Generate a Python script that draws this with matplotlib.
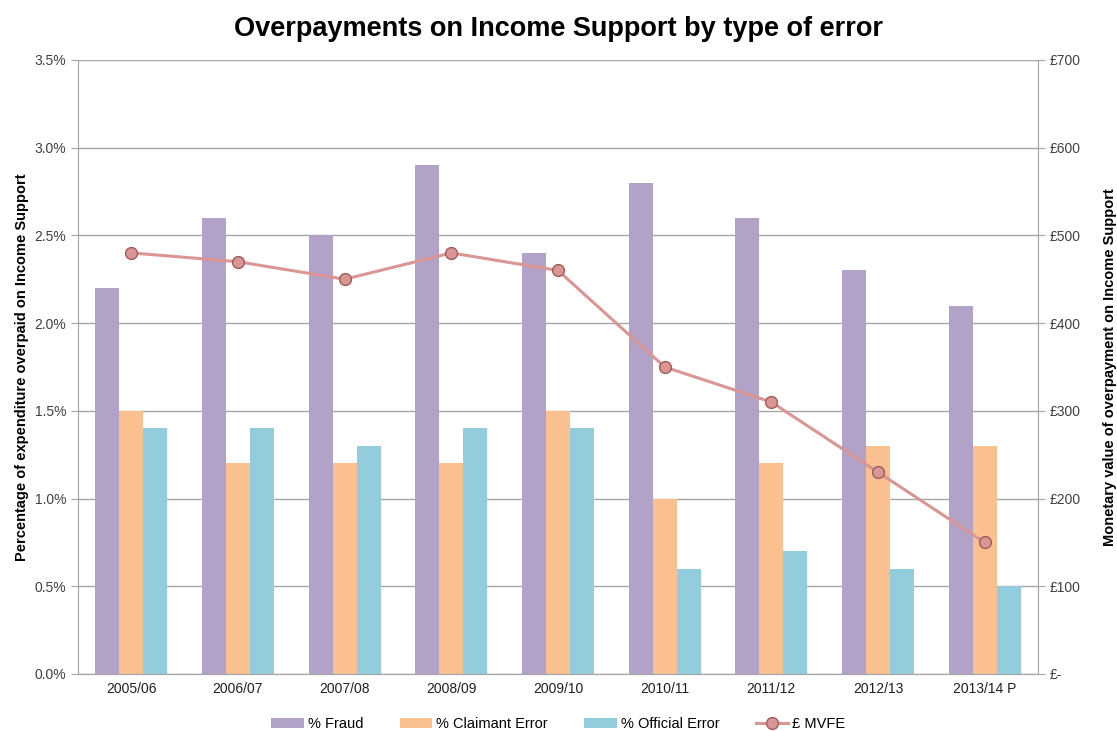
import numpy as np
import matplotlib
matplotlib.use("Agg")
from matplotlib import pyplot as plt
from matplotlib.ticker import FuncFormatter

years = ["2005/06", "2006/07", "2007/08", "2008/09", "2009/10",
         "2010/11", "2011/12", "2012/13", "2013/14 P"]
fraud = [2.2, 2.6, 2.5, 2.9, 2.4, 2.8, 2.6, 2.3, 2.1]
claimant = [1.5, 1.2, 1.2, 1.2, 1.5, 1.0, 1.2, 1.3, 1.3]
official = [1.4, 1.4, 1.3, 1.4, 1.4, 0.6, 0.7, 0.6, 0.5]
mvfe = [480, 470, 450, 480, 460, 350, 310, 230, 150]

plt.rcParams['font.family'] = ['Liberation Sans', 'DejaVu Sans']

def main():
	fig = plt.figure(figsize=(11.17, 7.31), dpi=100)
	ax = fig.add_axes([0.0698, 0.078, 0.8595, 0.840])
	x = np.arange(len(years))
	w = 0.225

	ax.bar(x - w, fraud, w, color="#B3A2C7", label="% Fraud", zorder=2)
	ax.bar(x, claimant, w, color="#FAC090", label="% Claimant Error", zorder=2)
	ax.bar(x + w, official, w, color="#93CDDD", label="% Official Error", zorder=2)

	ax.set_xlim(-0.5, len(years) - 0.5)
	ax.set_ylim(0, 3.5)
	ax.set_yticks(np.arange(0, 3.51, 0.5))
	ax.yaxis.set_major_formatter(FuncFormatter(lambda v, p: "%.1f%%" % v))
	ax.set_xticks(x)
	ax.set_xticklabels(years)
	ax.grid(axis="y", color="#A6A6A6", linewidth=1, zorder=0)
	ax.set_axisbelow(True)
	ax.spines["top"].set_visible(False)
	for s in ["left", "right", "bottom"]:
		ax.spines[s].set_color("#A6A6A6")
	ax.tick_params(axis="y", colors="#A6A6A6", labelcolor="#404040", labelsize=10, length=5)
	ax.tick_params(axis="x", length=0, labelcolor="#202020", labelsize=10, pad=6)
	ax.set_ylabel("Percentage of expenditure overpaid on Income Support",
		fontsize=10.5, fontweight="bold", labelpad=4)

	ax2 = ax.twinx()
	ax2.plot(x, mvfe, color="#D99694", linewidth=2.2, marker="o", markersize=8.5,
		markerfacecolor="#D99694", markeredgecolor="#A05A58", markeredgewidth=1,
		label="£ MVFE", zorder=3)
	ax2.set_ylim(0, 700)
	ax2.set_yticks(np.arange(0, 701, 100))
	ax2.yaxis.set_major_formatter(FuncFormatter(lambda v, p: "£-" if v == 0 else "£%d" % v))
	ax2.spines["top"].set_visible(False)
	for s in ["left", "right", "bottom"]:
		ax2.spines[s].set_color("#A6A6A6")
	ax2.tick_params(axis="y", colors="#A6A6A6", labelcolor="#404040", labelsize=10, length=5)
	ax2.set_ylabel("Monetary value of overpayment on Income Support",
		fontsize=10.5, fontweight="bold", labelpad=16)

	fig.suptitle("Overpayments on Income Support by type of error",
		fontsize=19.5, fontweight="bold", y=0.978)

	h1, l1 = ax.get_legend_handles_labels()
	h2, l2 = ax2.get_legend_handles_labels()
	fig.legend(h1 + h2, l1 + l2, loc="lower center", ncol=4, frameon=False,
		fontsize=10.5, bbox_to_anchor=(0.5, -0.018), handlelength=2.2,
		columnspacing=2.5, handletextpad=0.3)

	fig.savefig("out.png", dpi=100)


if __name__ == '__main__':
	main()
